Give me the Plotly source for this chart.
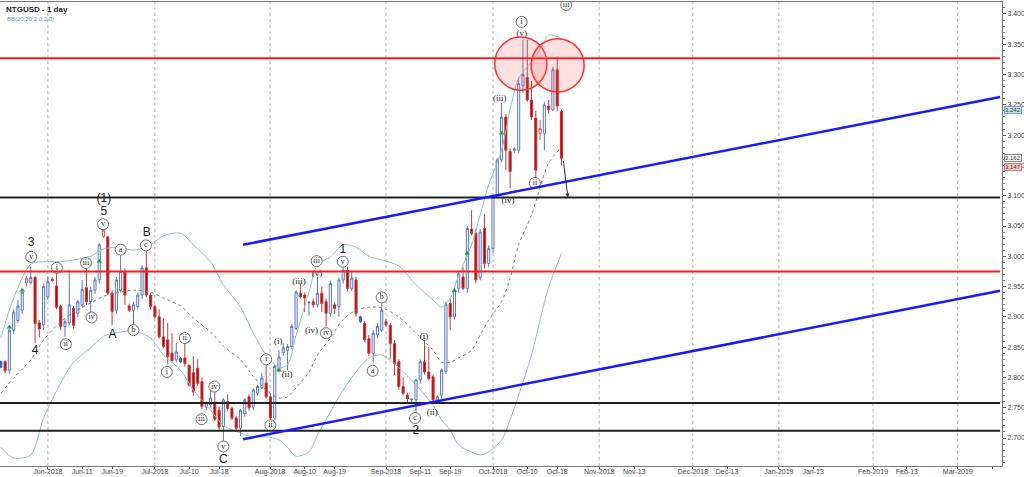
import plotly.graph_objects as go

# ---------------- candle data (bar index 0..131, daily bars, last bar = Oct-19-2018)
opens = [2.817, 2.826, 2.812, 2.878, 2.894, 2.911, 2.956, 2.957, 2.965, 2.890,
         2.887, 2.933, 2.962, 2.951, 2.917, 2.884, 2.890, 2.914, 2.906, 2.920,
         2.948, 2.925, 2.944, 2.961, 3.033, 3.032, 2.939, 2.911, 2.944, 2.975,
         2.918, 2.911, 2.917, 2.936, 2.981, 2.936, 2.917, 2.900, 2.867, 2.862,
         2.840, 2.829, 2.826, 2.832, 2.820, 2.808, 2.815, 2.793, 2.751, 2.755,
         2.757, 2.746, 2.719, 2.760, 2.749, 2.733, 2.716, 2.740, 2.768, 2.751,
         2.774, 2.783, 2.791, 2.768, 2.733, 2.812, 2.841, 2.845, 2.851, 2.881,
         2.939, 2.936, 2.923, 2.925, 2.920, 2.939, 2.925, 2.906, 2.920, 2.917,
         2.961, 2.977, 2.947, 2.961, 2.892, 2.889, 2.864, 2.840, 2.870, 2.878,
         2.892, 2.886, 2.856, 2.826, 2.785, 2.771, 2.763, 2.763, 2.796, 2.826,
         2.809, 2.801, 2.763, 2.771, 2.810, 2.922, 2.900, 2.947, 2.966, 2.947,
         3.045, 3.038, 2.965, 3.046, 2.988, 3.013, 3.098, 3.159, 3.230, 3.173,
         3.175, 3.175, 3.282, 3.295, 3.258, 3.228, 3.203, 3.203, 3.248, 3.242,
         3.308, 3.239]
highs = [2.828, 2.828, 2.884, 2.912, 2.928, 2.946, 2.968, 2.983, 2.968, 2.895,
         2.955, 2.967, 2.966, 2.972, 2.920, 2.897, 2.977, 2.918, 2.928, 2.961,
         2.991, 2.950, 2.966, 3.022, 3.045, 3.034, 2.944, 2.966, 3.014, 2.980,
         2.922, 2.925, 2.940, 2.985, 3.012, 2.940, 2.920, 2.912, 2.898, 2.890,
         2.873, 2.857, 2.834, 2.856, 2.822, 2.835, 2.830, 2.800, 2.760, 2.779,
         2.779, 2.752, 2.766, 2.772, 2.752, 2.737, 2.748, 2.766, 2.772, 2.782,
         2.788, 2.807, 2.820, 2.772, 2.822, 2.845, 2.856, 2.855, 2.888, 2.944,
         2.955, 2.940, 2.926, 2.930, 2.966, 2.950, 2.930, 2.960, 2.925, 2.965,
         2.981, 2.983, 2.975, 2.966, 2.902, 2.893, 2.870, 2.878, 2.890, 2.922,
         2.897, 2.890, 2.862, 2.830, 2.800, 2.775, 2.766, 2.798, 2.830, 2.862,
         2.850, 2.805, 2.770, 2.815, 2.925, 2.930, 2.948, 2.975, 2.983, 3.050,
         3.076, 3.045, 3.045, 3.070, 3.018, 3.102, 3.162, 3.253, 3.235, 3.178,
         3.180, 3.295, 3.358, 3.357, 3.290, 3.240, 3.225, 3.255, 3.258, 3.313,
         3.330, 3.242]
lows = [2.815, 2.807, 2.806, 2.872, 2.890, 2.905, 2.950, 2.953, 2.857, 2.866,
        2.878, 2.928, 2.957, 2.913, 2.878, 2.867, 2.886, 2.880, 2.900, 2.915,
        2.920, 2.906, 2.938, 2.955, 3.030, 2.936, 2.886, 2.905, 2.940, 2.920,
        2.908, 2.884, 2.912, 2.930, 2.933, 2.912, 2.897, 2.864, 2.848, 2.822,
        2.824, 2.825, 2.823, 2.818, 2.785, 2.770, 2.786, 2.748, 2.746, 2.750,
        2.728, 2.712, 2.694, 2.745, 2.730, 2.712, 2.703, 2.735, 2.745, 2.746,
        2.770, 2.780, 2.765, 2.729, 2.730, 2.808, 2.836, 2.812, 2.846, 2.878,
        2.930, 2.908, 2.902, 2.915, 2.915, 2.908, 2.884, 2.900, 2.905, 2.900,
        2.955, 2.942, 2.942, 2.900, 2.890, 2.858, 2.835, 2.823, 2.865, 2.875,
        2.884, 2.830, 2.804, 2.780, 2.770, 2.756, 2.758, 2.741, 2.790, 2.805,
        2.795, 2.757, 2.760, 2.765, 2.805, 2.878, 2.895, 2.940, 2.944, 2.940,
        3.035, 2.955, 2.960, 2.980, 2.982, 3.005, 3.095, 3.155, 3.142, 3.112,
        3.170, 3.170, 3.270, 3.255, 3.225, 3.130, 3.192, 3.175, 3.235, 3.240,
        3.240, 3.150]
closes = [2.826, 2.811, 2.878, 2.908, 2.918, 2.941, 2.964, 2.965, 2.889, 2.880,
          2.950, 2.958, 2.960, 2.916, 2.884, 2.892, 2.920, 2.886, 2.925, 2.945,
          2.925, 2.944, 2.961, 3.019, 3.043, 2.939, 2.909, 2.961, 2.975, 2.936,
          2.911, 2.920, 2.936, 2.981, 2.936, 2.917, 2.900, 2.867, 2.851, 2.834,
          2.828, 2.842, 2.831, 2.823, 2.787, 2.776, 2.790, 2.752, 2.758, 2.766,
          2.731, 2.718, 2.763, 2.749, 2.733, 2.716, 2.746, 2.763, 2.750, 2.779,
          2.785, 2.799, 2.768, 2.733, 2.818, 2.834, 2.849, 2.851, 2.884, 2.941,
          2.933, 2.931, 2.924, 2.920, 2.939, 2.922, 2.906, 2.955, 2.914, 2.961,
          2.977, 2.947, 2.964, 2.906, 2.900, 2.862, 2.840, 2.873, 2.884, 2.911,
          2.887, 2.856, 2.823, 2.785, 2.774, 2.765, 2.764, 2.796, 2.826, 2.809,
          2.798, 2.763, 2.768, 2.812, 2.921, 2.900, 2.944, 2.972, 2.947, 3.046,
          3.038, 2.961, 3.040, 2.988, 3.013, 3.098, 3.159, 3.230, 3.175, 3.140,
          3.177, 3.285, 3.300, 3.258, 3.230, 3.142, 3.211, 3.250, 3.242, 3.308,
          3.248, 3.162]
hollow_red_bars = [6, 24, 126]
filled_blue_bars = [0, 42, 84]

# ---------------- Bollinger bands (20, 2.0)
bb_idx = [0, 3, 7, 10, 14, 17, 21, 24, 28, 31, 35, 38, 42, 45, 49, 52, 56, 59, 62, 65,
          67, 69, 72, 74, 77, 80, 83, 86, 89, 93, 97, 101, 103, 105, 107, 110, 112, 114, 117, 119,
          121, 124, 126, 128, 131]
bb_upper = [2.865, 2.931, 2.987, 2.991, 2.991, 2.994, 3.000, 3.012, 3.015, 3.010,
            3.019, 3.034, 3.038, 3.019, 2.991, 2.953, 2.916, 2.873, 2.837, 2.816,
            2.821, 2.870, 2.941, 2.986, 2.999, 3.019, 3.015, 3.000, 2.994, 2.984,
            2.953, 2.928, 2.916, 2.931, 2.969, 3.019, 3.068, 3.118, 3.175, 3.242,
            3.294, 3.321, 3.341, 3.365, 3.360]
bb_mid = [2.774, 2.799, 2.829, 2.862, 2.892, 2.908, 2.923, 2.934, 2.941, 2.944,
          2.941, 2.931, 2.918, 2.898, 2.875, 2.852, 2.829, 2.802, 2.779, 2.766,
          2.768, 2.783, 2.809, 2.837, 2.865, 2.896, 2.911, 2.916, 2.915, 2.900,
          2.873, 2.845, 2.825, 2.825, 2.832, 2.845, 2.870, 2.895, 2.925, 2.964,
          3.019, 3.068, 3.114, 3.154, 3.180]
bb_lower = [2.685, 2.667, 2.672, 2.733, 2.791, 2.825, 2.849, 2.868, 2.875, 2.877,
            2.865, 2.837, 2.812, 2.779, 2.746, 2.721, 2.708, 2.702, 2.702, 2.697,
            2.684, 2.670, 2.677, 2.705, 2.743, 2.779, 2.809, 2.832, 2.837, 2.816,
            2.788, 2.754, 2.730, 2.713, 2.688, 2.677, 2.672, 2.677, 2.697, 2.730,
            2.771, 2.837, 2.895, 2.949, 3.005]

# signal arrows
signal_idx = [2, 5, 23, 65, 106, 109, 117]
signal_price = [2.883, 2.944, 2.992, 2.812, 2.943, 3.005, 3.203]

# ---------------- x axis ticks (bar index positions)
tick_pos = [11, 19, 26, 36, 44, 51, 62.9, 71, 78, 90, 98, 105, 115, 123, 130,
            139.8, 148, 161.7, 169.7, 181.8, 189.8, 203.8, 211.7, 223.6, 231.6]
tick_text = ['Jun-2018', 'Jun-11', 'Jun-19', 'Jul-2018', 'Jul-10', 'Jul-18',
             'Aug-2018', 'Aug-10', 'Aug-19', 'Sep-2018', 'Sep-11', 'Sep-19',
             'Oct-2018', 'Oct-10', 'Oct-18', 'Nov-2018', 'Nov-13', 'Dec-2018', 'Dec-13',
             'Jan-2019', 'Jan-13', 'Feb-2019', 'Feb-13', 'Mar-2019', '']
month_grid = [11, 36, 62.9, 90, 115, 139.8, 161.7, 181.8, 203.8, 223.6]

# ---------------- levels and channels
red_levels = [3.327, 2.975]
black_levels = [3.097, 2.758, 2.712]
channel_x = [56.6, 233.5]
channel_upper = [3.019, 3.263]
channel_lower = [2.698, 2.943]
line_end = 233.5

# ---------------- wave labels
circ_text = ['v', 'i', 'iii', 'ii', 'iv', 'v', 'a', 'c', 'b', 'ii', 'i', 'iv', 'iii', 'v',
             'i', 'ii', 'iii', 'v', 'b', 'a', 'c', 'ii', 'i', 'iii', 'iv']
circ_x = [7.1, 13.1, 19.9, 15.2, 21.2, 23.9, 28.0, 33.9, 31.0, 43.0, 38.8, 49.9, 46.9, 52.0,
          62.0, 63.0, 73.8, 79.9, 89.0, 86.9, 96.8, 124.8, 121.7, 132.1, 76.0]
circ_y = [2.999, 2.981, 2.989, 2.855, 2.899, 3.053, 3.011, 3.018, 2.878, 2.865, 2.809, 2.785,
          2.731, 2.686, 2.830, 2.721, 2.992, 2.991, 2.932, 2.811, 2.733, 3.121, 3.387, 3.415, 2.873]

par_text = ['(i)', '(ii)', '(iii)', '(iv)', '(v)', '(iii)', '(v)', '(iv)', '(i)', '(ii)']
par_x = [64.8, 66.9, 69.7, 72.6, 73.9, 116.6, 121.7, 118.5, 98.9, 100.8]
par_y = [2.859, 2.804, 2.958, 2.877, 2.972, 3.260, 3.368, 3.091, 2.867, 2.742]

big_text = ['3', '4', '5', '(1)', 'A', 'B', 'C', '1', '2']
big_x = [7.1, 8.0, 24.1, 24.1, 26.1, 34.1, 52.0, 79.9, 97.0]
big_y = [3.022, 2.844, 3.073, 3.095, 2.870, 3.039, 2.664, 3.010, 2.712]

# target circles (center idx, center price, radius idx, radius price)
circles = [(121.5, 3.318, 6.1, 0.044), (130.1, 3.315, 6.2, 0.044)]

# right price tags
tags = [(3.242, '#c7e3ef', '#6fa8c8'), (3.162, '#ffffff', '#888888'), (3.147, '#f6c9c9', '#d07a7a')]

X_RANGE = [-0.19, 233.93]
Y_RANGE = [2.6538, 3.4198]

fig = go.Figure()

# bands
fig.add_trace(go.Scatter(x=bb_idx, y=bb_upper, mode='lines', line=dict(color='#8cc4c4', width=1, shape='spline', smoothing=0.8), hoverinfo='skip'))
fig.add_trace(go.Scatter(x=bb_idx, y=bb_lower, mode='lines', line=dict(color='#8cc4c4', width=1, shape='spline', smoothing=0.8), hoverinfo='skip'))
fig.add_trace(go.Scatter(x=bb_idx, y=bb_mid, mode='lines', line=dict(color='#808080', width=1, dash='dot', shape='spline', smoothing=0.8), hoverinfo='skip'))

special = set(hollow_red_bars) | set(filled_blue_bars)
main = [i for i in range(len(opens)) if i not in special]


def sub(arr, ids):
    return [arr[i] for i in ids]


fig.add_trace(go.Candlestick(
    x=main, open=sub(opens, main), high=sub(highs, main), low=sub(lows, main), close=sub(closes, main),
    increasing=dict(line=dict(color='#5677c0', width=1), fillcolor='#ffffff'),
    decreasing=dict(line=dict(color='#c23a3a', width=1), fillcolor='#c00000'),
    whiskerwidth=0))
fig.add_trace(go.Candlestick(
    x=hollow_red_bars, open=sub(opens, hollow_red_bars), high=sub(highs, hollow_red_bars),
    low=sub(lows, hollow_red_bars), close=sub(closes, hollow_red_bars),
    increasing=dict(line=dict(color='#c86060', width=1), fillcolor='#ffffff'),
    decreasing=dict(line=dict(color='#c86060', width=1), fillcolor='#ffffff'), whiskerwidth=0))
fig.add_trace(go.Candlestick(
    x=filled_blue_bars, open=sub(opens, filled_blue_bars), high=sub(highs, filled_blue_bars),
    low=sub(lows, filled_blue_bars), close=sub(closes, filled_blue_bars),
    increasing=dict(line=dict(color='#2f5fc0', width=1), fillcolor='#2f6fd0'),
    decreasing=dict(line=dict(color='#2f5fc0', width=1), fillcolor='#2f6fd0'), whiskerwidth=0))

fig.add_trace(go.Scatter(x=signal_idx, y=signal_price, mode='markers',
                         marker=dict(symbol='triangle-up', size=5, color='#2ca02c'), hoverinfo='skip'))

shapes = []
for g in month_grid:
    shapes.append(dict(type='line', xref='x', yref='paper', x0=g, x1=g, y0=0, y1=1,
                       line=dict(color='#b0b0b0', width=1, dash='dot'), layer='below'))
for lv in red_levels:
    shapes.append(dict(type='line', xref='x', yref='y', x0=X_RANGE[0], x1=line_end, y0=lv, y1=lv,
                       line=dict(color='#ff1a1a', width=2)))
for lv in black_levels:
    shapes.append(dict(type='line', xref='x', yref='y', x0=X_RANGE[0], x1=line_end, y0=lv, y1=lv,
                       line=dict(color='#222222', width=2)))
for ys in (channel_upper, channel_lower):
    shapes.append(dict(type='line', xref='x', yref='y', x0=channel_x[0], x1=channel_x[1], y0=ys[0], y1=ys[1],
                       line=dict(color='#1a1aff', width=2.5)))
for cx, cy, rx, ry in circles:
    shapes.append(dict(type='circle', xref='x', yref='y', x0=cx - rx, x1=cx + rx, y0=cy - ry, y1=cy + ry,
                       line=dict(color='#ff3030', width=1.5), fillcolor='rgba(255,90,90,0.18)'))

# circled labels
fig.add_trace(go.Scatter(x=circ_x, y=circ_y, mode='markers+text', text=circ_text,
                         textposition='middle center',
                         textfont=dict(family='Liberation Serif', size=8, color='#222'),
                         marker=dict(symbol='circle', size=11, color='white', line=dict(color='#707070', width=1)),
                         hoverinfo='skip'))
fig.add_trace(go.Scatter(x=par_x, y=par_y, mode='text', text=par_text, textposition='middle center',
                         textfont=dict(family='Liberation Serif', size=9, color='#222'), hoverinfo='skip'))
fig.add_trace(go.Scatter(x=big_x, y=big_y, mode='text', text=big_text, textposition='middle center',
                         textfont=dict(family='Liberation Sans', size=12, color='#222'), hoverinfo='skip'))

annotations = [
    dict(xref='paper', yref='paper', x=0.004, y=0.998, xanchor='left', yanchor='top', showarrow=False,
         text='<b>NTGUSD - 1 day</b>', font=dict(family='Liberation Sans', size=8, color='#222')),
    dict(xref='paper', yref='paper', x=0.005, y=0.975, xanchor='left', yanchor='top', showarrow=False,
         text='BB(20,20,2.0,2.0)', font=dict(family='Liberation Sans', size=6, color='#5aa5a5')),
    dict(x=132.5, y=3.097, ax=131.4, ay=3.160, xref='x', yref='y', axref='x', ayref='y',
         showarrow=True, arrowhead=2, arrowsize=0.8, arrowwidth=1, arrowcolor='#333', text=''),
]
for val, bg, bc in tags:
    annotations.append(dict(xref='paper', yref='y', x=1.0, y=val, xanchor='left', yanchor='middle',
                            xshift=2, showarrow=False, text=f'{val:.3f}', bgcolor=bg, bordercolor=bc,
                            borderwidth=1, borderpad=0, font=dict(family='Liberation Sans', size=6, color='#333')))

y_ticks = [round(2.70 + 0.05 * k, 2) for k in range(15)]

fig.update_layout(
    width=1024, height=477,
    margin=dict(l=0, r=22, t=2, b=11, autoexpand=False),
    paper_bgcolor='white', plot_bgcolor='white',
    showlegend=False,
    shapes=shapes, annotations=annotations,
    xaxis=dict(range=X_RANGE, rangeslider=dict(visible=False), showgrid=False, zeroline=False,
               tickmode='array', tickvals=tick_pos, ticktext=tick_text, ticks='outside', ticklen=2,
               ticklabelstandoff=-3,
               tickcolor='#555', tickfont=dict(family='Liberation Sans', size=7, color='#444'),
               showline=True, linecolor='#777', linewidth=1, mirror=True, automargin=False),
    yaxis=dict(range=Y_RANGE, side='right', showgrid=False, zeroline=False,
               tickmode='array', tickvals=y_ticks, ticktext=[f'{v:.3f}' for v in y_ticks],
               ticks='outside', ticklen=3, tickcolor='#555',
               tickfont=dict(family='Liberation Sans', size=7, color='#444'),
               minor=dict(dtick=0.01, ticks='outside', ticklen=2, tickcolor='#777'),
               showline=True, linecolor='#777', linewidth=1, mirror=True, automargin=False),
)

fig.write_html('out.html', config={'displayModeBar': False},
               post_script="document.body.style.margin='0';document.body.style.padding='0';")
